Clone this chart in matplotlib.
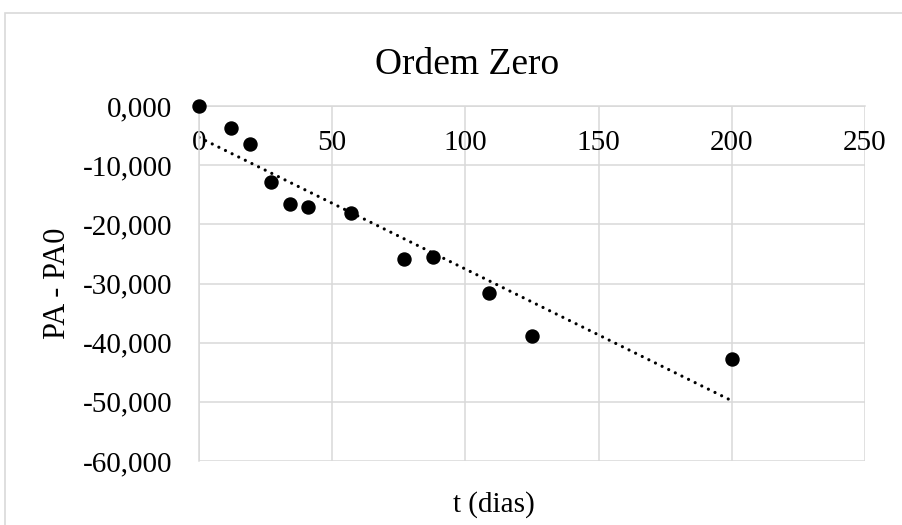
import numpy as np
import matplotlib
matplotlib.use("Agg")
import matplotlib.pyplot as plt
from matplotlib.patches import Rectangle
from matplotlib.ticker import FuncFormatter

# dados
t_dias = [0, 12, 19, 27, 34, 41, 57, 77, 88, 109, 125, 200]
pa_pa0 = [0, -3.7, -6.5, -12.8, -16.6, -17.1, -18.1, -25.8, -25.6, -31.6, -38.8, -42.7]

x_ticks = [0, 50, 100, 150, 200, 250]
y_ticks = [0, -10, -20, -30, -40, -50, -60]

plt.rcParams['font.family'] = ['Liberation Serif', 'DejaVu Serif']
grid_col = '#d9d9d9'

fig = plt.figure(figsize=(9.03, 5.25), dpi=100)
fig.patches.append(Rectangle((5 / 903, -0.1), 1.1, 1 - 13 / 525 + 0.1,
                             transform=fig.transFigure, fill=False,
                             edgecolor=grid_col, lw=1.2))

ax = fig.add_axes([199 / 903, 1 - 461 / 525, (865 - 199) / 903, (461 - 106) / 525])
ax.set_xlim(0, 250)
ax.set_ylim(-60, 0)
ax.set_xticks(x_ticks)
ax.set_yticks(y_ticks)
ax.grid(True, color=grid_col, lw=1.1)
ax.set_axisbelow(True)

for s in ['top', 'right']:
    ax.spines[s].set_visible(False)
ax.spines['bottom'].set_position(('data', 0))
ax.spines['bottom'].set_color(grid_col)
ax.spines['left'].set_color(grid_col)
ax.spines['bottom'].set_linewidth(1.1)
ax.spines['left'].set_linewidth(1.1)

ax.yaxis.set_major_formatter(FuncFormatter(lambda v, p: f"{v:.3f}".replace('.', ',').replace('-0,000', '0,000')))
ax.tick_params(axis='both', length=0, labelsize=21)
ax.tick_params(axis='y', pad=19)
ax.tick_params(axis='x', pad=17)

# tendencia linear
coef = np.polyfit(t_dias, pa_pa0, 1)
xt = np.array([min(t_dias), max(t_dias)])
ax.plot(xt, np.polyval(coef, xt), color='black', lw=2.3,
        linestyle=(0, (0.01, 2.3)), dash_capstyle='round', zorder=2)

ax.scatter(t_dias, pa_pa0, s=88, color='black', zorder=3, clip_on=False)

fig.text(467 / 903, 1 - 65 / 525, 'Ordem Zero', ha='center', va='center', fontsize=27)
fig.text(494 / 903, 1 - 505 / 525, 't (dias)', ha='center', va='center', fontsize=21)
fig.text(58 / 903, 1 - 283 / 525, 'PA - PA0', ha='center', va='center', fontsize=22, rotation=90)

fig.savefig('out.png', dpi=100)
